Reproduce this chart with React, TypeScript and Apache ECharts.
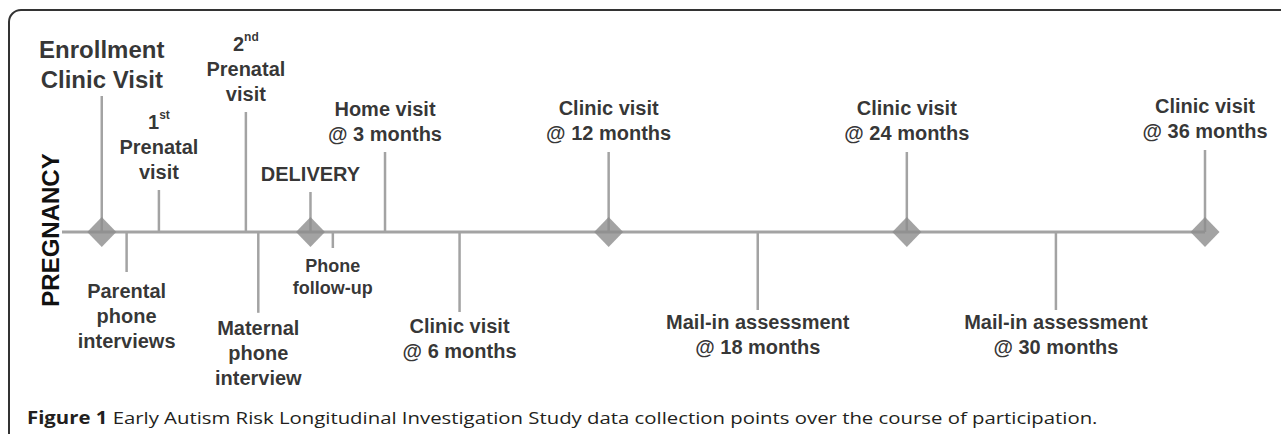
import React, { useEffect, useRef } from "react";
import * as echarts from "echarts";

// ---- data ----
const eventLabels: string[] = [
  "{big|Enrollment}\n{big|Clinic Visit}",
  "{b|Parental}\n{b|phone}\n{b|interviews}",
  "{b|1}{sup|st}\n{b|Prenatal}\n{b|visit}",
  "{b|2}{sup|nd}\n{b|Prenatal}\n{b|visit}",
  "{b|Maternal}\n{b|phone}\n{b|interview}",
  "{b|DELIVERY}",
  "{s|Phone}\n{s|follow-up}",
  "{b|Home visit}\n{b|@ 3 months}",
  "{b|Clinic visit}\n{b|@ 6 months}",
  "{b|Clinic visit}\n{b|@ 12 months}",
  "{b|Mail-in assessment}\n{b|@ 18 months}",
  "{b|Clinic visit}\n{b|@ 24 months}",
  "{b|Mail-in assessment}\n{b|@ 30 months}",
  "{b|Clinic visit}\n{b|@ 36 months}",
];
// months relative to delivery
const eventMonths: number[] = [-8.4, -7.4, -6.1, -2.6, -2.1, 0, 0.9, 3, 6, 12, 18, 24, 30, 36];
// stem length (positive = above the timeline, negative = below)
const stemHeights: number[] = [3.4, -1, 1.05, 3, -2.02, 1, -0.4, 2, -2, 2, -1.95, 2, -1.95, 2.05];
// milestone (diamond) months
const milestoneMonths: number[] = [-8.4, 0, 12, 24, 36];
const timelineStart = -10;
const timelineEnd = 36;
const sideLabel = "PREGNANCY";
const captionBold = "Figure 1";
const captionText =
  " Early Autism Risk Longitudinal Investigation Study data collection points over the course of participation.";

// label offsets from stem ends (styling)
const labelDistances: number[] = [2, 6, 6, 6, 3, 6, 7, 6, 1, 7, -1, 7, -1, 7];

const LINE = "#a3a3a3";
const DIAMOND = "#8c8c8c";
const FONT = "Liberation Sans";

export default function App() {
  const ref = useRef<HTMLDivElement>(null);
  useEffect(() => {
    if (!ref.current) return;
    const chart = echarts.init(ref.current, undefined, { renderer: "svg" });
    const rich = {
      b: { fontSize: 20, fontWeight: "bold", lineHeight: 25, fontFamily: FONT, color: "#000" },
      big: { fontSize: 24, fontWeight: "bold", lineHeight: 30, fontFamily: FONT, color: "#000" },
      s: { fontSize: 18, fontWeight: "bold", lineHeight: 22, fontFamily: FONT, color: "#000" },
      sup: { fontSize: 12, fontWeight: "bold", lineHeight: 14, fontFamily: FONT, color: "#000", verticalAlign: "top" },
    };
    const option: any = {
      animation: false,
      textStyle: { fontFamily: FONT },
      grid: { left: 62, right: 76, top: 32, bottom: 2 },
      xAxis: { type: "value", min: timelineStart, max: timelineEnd, show: false },
      yAxis: { type: "value", min: -5, max: 5, show: false },
      graphic: [
        {
          type: "rect",
          shape: { x: 9, y: 10, width: 1300, height: 500, r: 12 },
          style: { fill: "none", stroke: "#333", lineWidth: 2 },
          silent: true,
        },
        {
          type: "text",
          x: 50,
          y: 230,
          rotation: Math.PI / 2,
          style: {
            text: sideLabel,
            fontSize: 24,
            fontWeight: "bold",
            fontFamily: FONT,
            fill: "#111",
            align: "center",
            verticalAlign: "middle",
          },
        },
        {
          type: "text",
          x: 27,
          y: 417,
          scaleX: 1.196,
          style: {
            text: "{cb|" + captionBold + "}{c|" + captionText + "}",
            align: "left",
            verticalAlign: "middle",
            rich: {
              cb: { fontSize: 17, fontWeight: "bold", fontFamily: "Open Sans", fill: "#231f20" },
              c: { fontSize: 17, fontFamily: "Open Sans", fill: "#231f20" },
            },
          },
        },
      ],
      series: [
        {
          type: "line",
          data: [
            [timelineStart, 0],
            [timelineEnd, 0],
          ],
          symbol: "none",
          lineStyle: { color: LINE, width: 3 },
          silent: true,
          z: 1,
        },
        {
          type: "custom",
          data: eventMonths.map((m, i) => [m, stemHeights[i]]),
          renderItem: (params: any, api: any) => {
            const p0 = api.coord([api.value(0), 0]);
            const p1 = api.coord([api.value(0), api.value(1)]);
            return {
              type: "line",
              shape: { x1: p0[0], y1: p0[1], x2: p1[0], y2: p1[1] },
              style: { stroke: LINE, lineWidth: 2.5 },
            };
          },
          silent: true,
          z: 2,
        },
        {
          type: "scatter",
          data: milestoneMonths.map((m) => [m, 0]),
          symbol: "diamond",
          symbolSize: [29, 30],
          itemStyle: { color: DIAMOND },
          silent: true,
          z: 3,
        },
        {
          type: "scatter",
          symbolSize: 0,
          silent: true,
          z: 4,
          data: eventMonths.map((m, i) => ({
            value: [m, stemHeights[i]],
            label: {
              show: true,
              position: stemHeights[i] > 0 ? "top" : "bottom",
              distance: labelDistances[i],
              formatter: eventLabels[i],
              align: "center",
              color: "#000",
              fontFamily: FONT,
              fontWeight: "bold",
              rich,
            },
          })),
        },
      ],
    };
    chart.setOption(option);
    return () => chart.dispose();
  }, []);
  return (
    <div
      ref={ref}
      style={{ position: "absolute", left: 0, top: 0, width: 1281, height: 434, background: "#fff" }}
    />
  );
}
